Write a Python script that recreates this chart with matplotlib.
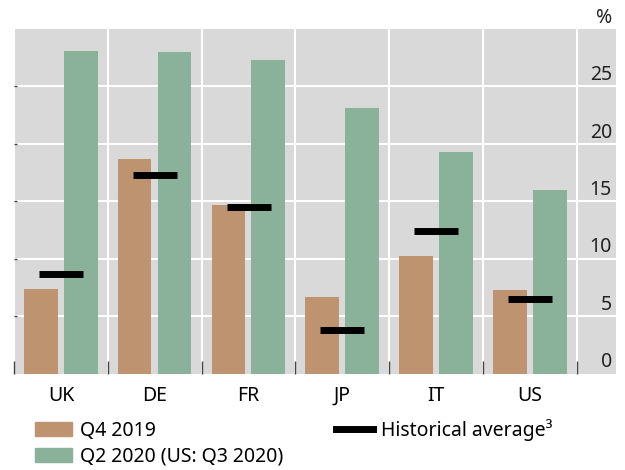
import matplotlib.pyplot as plt
from matplotlib.patches import Patch
from matplotlib.lines import Line2D
import numpy as np

plt.rcParams['font.family'] = ['Noto Sans', 'DejaVu Sans']

# Data
countries = ['UK', 'DE', 'FR', 'JP', 'IT', 'US']
q4_2019 = [7.35, 18.65, 14.7, 6.7, 10.2, 7.25]
q2_2020 = [28.1, 28.0, 27.3, 23.1, 19.3, 16.0]
hist_avg = [8.7, 17.3, 14.5, 3.8, 12.45, 6.5]
yticks = [0, 5, 10, 15, 20, 25]

orange = '#BE9370'
green = '#8AB29A'
bg = '#D9D9D9'
fs = 14

fig = plt.figure(figsize=(6.25, 4.7), dpi=100)
ax = fig.add_axes([14 / 625, 1 - 373.5 / 470, (616 - 14) / 625, (373.5 - 29) / 470])
ax.set_facecolor(bg)

x = np.arange(len(countries))
w = 0.36
ax.bar(x - 0.215, q4_2019, width=w, color=orange, zorder=3)
ax.bar(x + 0.21, q2_2020, width=w, color=green, zorder=3)
ax.hlines(hist_avg, x - 0.235, x + 0.235, color='black', lw=5, zorder=4)

ax.set_xlim(-0.5, 5.916)
ax.set_ylim(0, 30)

# grid: horizontal lines at y ticks, vertical lines at category boundaries
for y in yticks[1:]:
    ax.axhline(y, color='white', lw=1.5, zorder=1)
for b in np.arange(-0.5, 6.0, 1.0):
    ax.axvline(b, color='white', lw=1.5, zorder=1)

# y labels inside the grey area on the right, sitting just above each gridline
for y in yticks:
    ax.text(5.873, y + 0.55, str(y), ha='right', va='baseline', fontsize=fs, color='#222222')
fig.text(612 / 625, 1 - 18 / 470, '%', ha='right', va='center', fontsize=fs, color='#222222')

ax.set_xticks(x)
ax.set_xticklabels(countries, fontsize=fs)
ax.set_xticks(np.arange(-0.5, 6.0, 1.0), minor=True)
ax.tick_params(axis='x', which='major', length=0, pad=9)
ax.tick_params(axis='x', which='minor', direction='in', length=9.5, width=1, color='#444444')
ax.set_yticks(yticks[1:])
ax.set_yticklabels([])
ax.tick_params(axis='y', direction='in', length=2, width=1, color='#444444')

for s in ax.spines.values():
    s.set_visible(False)

handles = [Patch(color=orange, label='Q4 2019'),
           Patch(color=green, label='Q2 2020 (US: Q3 2020)'),
           Line2D([], [], color='black', lw=5, label='Historical average³')]
fig.legend(handles=handles, loc='upper left', bbox_to_anchor=(35 / 625, 1 - 419 / 470),
           ncol=2, frameon=False, fontsize=fs, handlelength=1.9, handleheight=0.77,
           handletextpad=0.41, columnspacing=2.7, labelspacing=0.3, borderpad=0,
           borderaxespad=0)

fig.savefig('out.png', dpi=100)
